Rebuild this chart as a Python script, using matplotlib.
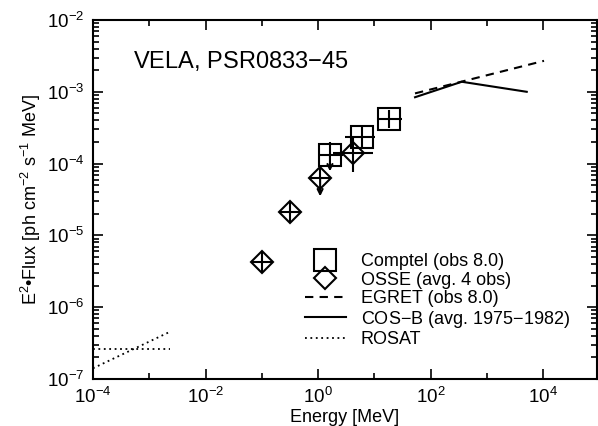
import numpy as np
import matplotlib
matplotlib.use("Agg")
import matplotlib.pyplot as plt
from matplotlib.ticker import FixedLocator, FuncFormatter, NullFormatter

plt.rcParams['font.family'] = ['Liberation Sans', 'DejaVu Sans']
plt.rcParams['mathtext.fontset'] = 'custom'
plt.rcParams['mathtext.rm'] = 'Liberation Sans'
plt.rcParams['mathtext.it'] = 'Liberation Sans'
plt.rcParams['mathtext.bf'] = 'Liberation Sans:bold'

# Comptel (obs 8.0) - squares
comptel_e = [1.63, 5.98, 18.3]
comptel_f = [1.32e-4, 2.37e-4, 4.17e-4]
comptel_elo = [1.0, 3.02, 11.2]
comptel_ehi = [2.78, 10.3, 30.8]
comptel_flo = [1.32e-4, 1.66e-4, 3.16e-4]
comptel_fhi = [2.0e-4, 3.46e-4, 5.6e-4]
comptel_uplim = [True, False, False]
comptel_limit = [7.8e-5, None, None]

# OSSE (avg. 4 obs) - diamonds
osse_e = [0.10, 0.32, 1.09, 4.19]
osse_f = [4.2e-6, 2.14e-5, 6.4e-5, 1.41e-4]
osse_elo = [0.066, 0.21, 0.70, 1.85]
osse_ehi = [0.15, 0.48, 1.6, 9.5]
osse_flo = [3.0e-6, 1.52e-5, 6.4e-5, 7.6e-5]
osse_fhi = [5.8e-6, 2.95e-5, 9.0e-5, 2.34e-4]
osse_uplim = [False, False, True, False]
osse_limit = [None, None, 3.5e-5, None]

# EGRET (obs 8.0)
egret_e = [53, 1.04e4]
egret_f = [9.5e-4, 2.7e-3]

# COS-B (avg. 1975-1982)
cosb_e = [53, 359, 5130]
cosb_f = [8.4e-4, 1.38e-3, 1.0e-3]

# ROSAT
rosat1_e = [1e-4, 2.35e-3]
rosat1_f = [2.59e-7, 2.59e-7]
rosat2_e = [1e-4, 2.35e-3]
rosat2_f = [1.41e-7, 4.56e-7]

xticks = [1e-4, 1e-2, 1e0, 1e2, 1e4]
xminor = [1e-3, 1e-1, 1e1, 1e3]
yticks = [1e-7, 1e-6, 1e-5, 1e-4, 1e-3, 1e-2]

fig = plt.figure(figsize=(5.98, 4.26), dpi=100)
ax = fig.add_axes([93/598, 1-379/426, 504/598, 359/426])
ax.set_xscale('log')
ax.set_yscale('log')

lw = 1.5

# error bars
def errs(v, lo, hi):
    v = np.array(v); lo = np.array(lo); hi = np.array(hi)
    return [v - lo, hi - v]

ax.errorbar(comptel_e, comptel_f, xerr=errs(comptel_e, comptel_elo, comptel_ehi),
            yerr=errs(comptel_f, comptel_flo, comptel_fhi), fmt='none', ecolor='k', elinewidth=lw, capsize=0)
ax.errorbar(osse_e, osse_f, xerr=errs(osse_e, osse_elo, osse_ehi),
            yerr=errs(osse_f, osse_flo, osse_fhi), fmt='none', ecolor='k', elinewidth=lw, capsize=0)

# upper limit arrows
for e, f, up, lim in zip(comptel_e + osse_e, comptel_f + osse_f,
                         comptel_uplim + osse_uplim, comptel_limit + osse_limit):
    if up:
        ax.annotate('', xy=(e, lim), xytext=(e, f),
                    arrowprops=dict(arrowstyle='->', color='k', lw=lw, shrinkA=0, shrinkB=0,
                                    mutation_scale=9))

sq, = ax.plot(comptel_e, comptel_f, 's', ms=15.5, mfc='none', mec='k', mew=lw, linestyle='none')
dm, = ax.plot(osse_e, osse_f, 'D', ms=11.5, mfc='none', mec='k', mew=lw, linestyle='none')

eg, = ax.plot(egret_e, egret_f, 'k--', lw=lw, dashes=(4, 3))
cb, = ax.plot(cosb_e, cosb_f, 'k-', lw=lw)
ro, = ax.plot(rosat1_e, rosat1_f, 'k:', lw=1.3, dashes=(1, 2))
ax.plot(rosat2_e, rosat2_f, 'k:', lw=1.3, dashes=(1, 2))

ax.text(0.079, 0.886, 'VELA, PSR0833$-$45', transform=ax.transAxes, fontsize=17,
        va='center', ha='left')

leg = ax.legend([sq, dm, eg, cb, ro],
                ['Comptel (obs 8.0)', 'OSSE (avg. 4 obs)', 'EGRET (obs 8.0)',
                 'COS$-$B (avg. 1975$-$1982)', 'ROSAT'],
                loc='upper left', bbox_to_anchor=(0.42, 0.35), frameon=False,
                fontsize=13, handlelength=2.3, handletextpad=0.8, labelspacing=0.08,
                borderpad=0, borderaxespad=0)

fmt = FuncFormatter(lambda v, p: r'$10^{%d}$' % round(np.log10(v)))
ax.xaxis.set_major_locator(FixedLocator(xticks))
ax.xaxis.set_minor_locator(FixedLocator(xminor))
ax.xaxis.set_major_formatter(fmt)
ax.xaxis.set_minor_formatter(NullFormatter())
ax.yaxis.set_major_locator(FixedLocator(yticks))
yminor = [m * 10.0 ** k for k in range(-7, -2) for m in range(2, 10)]
ax.yaxis.set_minor_locator(FixedLocator(yminor))
ax.yaxis.set_major_formatter(fmt)
ax.yaxis.set_minor_formatter(NullFormatter())
ax.set_xlim(1e-4, 9.1e4)
ax.set_ylim(1e-7, 1e-2)

ax.tick_params(which='both', direction='in', top=True, right=True, width=1.2)
ax.tick_params(which='major', length=7, labelsize=13.5, pad=6)
ax.tick_params(which='minor', length=4)
for s in ax.spines.values():
    s.set_linewidth(1.5)

ax.set_xlabel('Energy [MeV]', fontsize=13, labelpad=1)
ax.set_ylabel('E$^2$\u2022Flux [ph cm$^{-2}$ s$^{-1}$ MeV]', fontsize=13, labelpad=3)

fig.savefig('out.png', dpi=100)
